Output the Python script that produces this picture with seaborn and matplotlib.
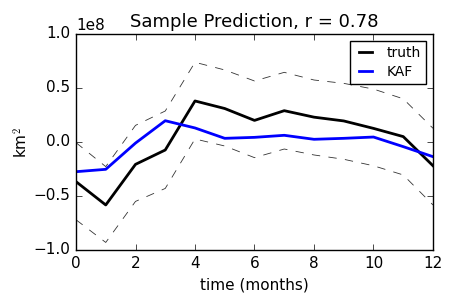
import numpy as np
import pandas as pd
import matplotlib
matplotlib.use('Agg')
import matplotlib.pyplot as plt
import seaborn as sns

# valores (unidade 1e8 km^2)
months = list(range(13))
truth = [-0.367, -0.583, -0.207, -0.074, 0.38, 0.31, 0.20, 0.29, 0.23, 0.195, 0.126, 0.05, -0.22]
kaf = [-0.275, -0.253, -0.01, 0.197, 0.13, 0.034, 0.043, 0.062, 0.025, 0.034, 0.046, -0.043, -0.136]
upper = [-0.006, -0.228, 0.154, 0.287, 0.738, 0.667, 0.565, 0.645, 0.574, 0.543, 0.49, 0.40, 0.127]
lower = [-0.72, -0.93, -0.55, -0.43, 0.028, -0.037, -0.145, -0.065, -0.12, -0.16, -0.22, -0.305, -0.583]

scale = 1e8
df = pd.DataFrame({'t': months,
                   'truth': np.array(truth) * scale,
                   'KAF': np.array(kaf) * scale,
                   'upper': np.array(upper) * scale,
                   'lower': np.array(lower) * scale})

plt.style.use('classic')
plt.rcParams['figure.facecolor'] = 'white'
plt.rcParams['savefig.facecolor'] = 'white'

fig = plt.figure(figsize=(4.58, 3.05), dpi=100)
ax = fig.add_axes([76/458, 1 - 250/305, (433-76)/458, (250-34)/305])

sns.lineplot(data=df, x='t', y='truth', color='black', lw=2, label='truth', ax=ax)
sns.lineplot(data=df, x='t', y='KAF', color='blue', lw=2, label='KAF', ax=ax)
sns.lineplot(data=df, x='t', y='upper', color='black', lw=0.6, ax=ax)
sns.lineplot(data=df, x='t', y='lower', color='black', lw=0.6, ax=ax)
for l in ax.lines[2:]:
    l.set_dashes([6, 6])
    l.set_alpha(0.8)

ax.set_xlim(0, 12)
ax.set_ylim(-1e8, 1e8)
ax.set_xticks([0, 2, 4, 6, 8, 10, 12])
ax.set_yticks([-1e8, -0.5e8, 0, 0.5e8, 1e8])
ax.set_xlabel('time (months)', fontsize=11)
ax.set_ylabel('km$^2$', fontsize=11, labelpad=2)
ax.set_title('Sample Prediction, r = 0.78', fontsize=13)
ax.tick_params(labelsize=11)
ax.yaxis.get_offset_text().set_fontsize(11)
ax.legend(loc='upper right', fontsize=10, handlelength=1.5,
          labelspacing=0.35, borderpad=0.35)

fig.savefig('out.png', dpi=100)
